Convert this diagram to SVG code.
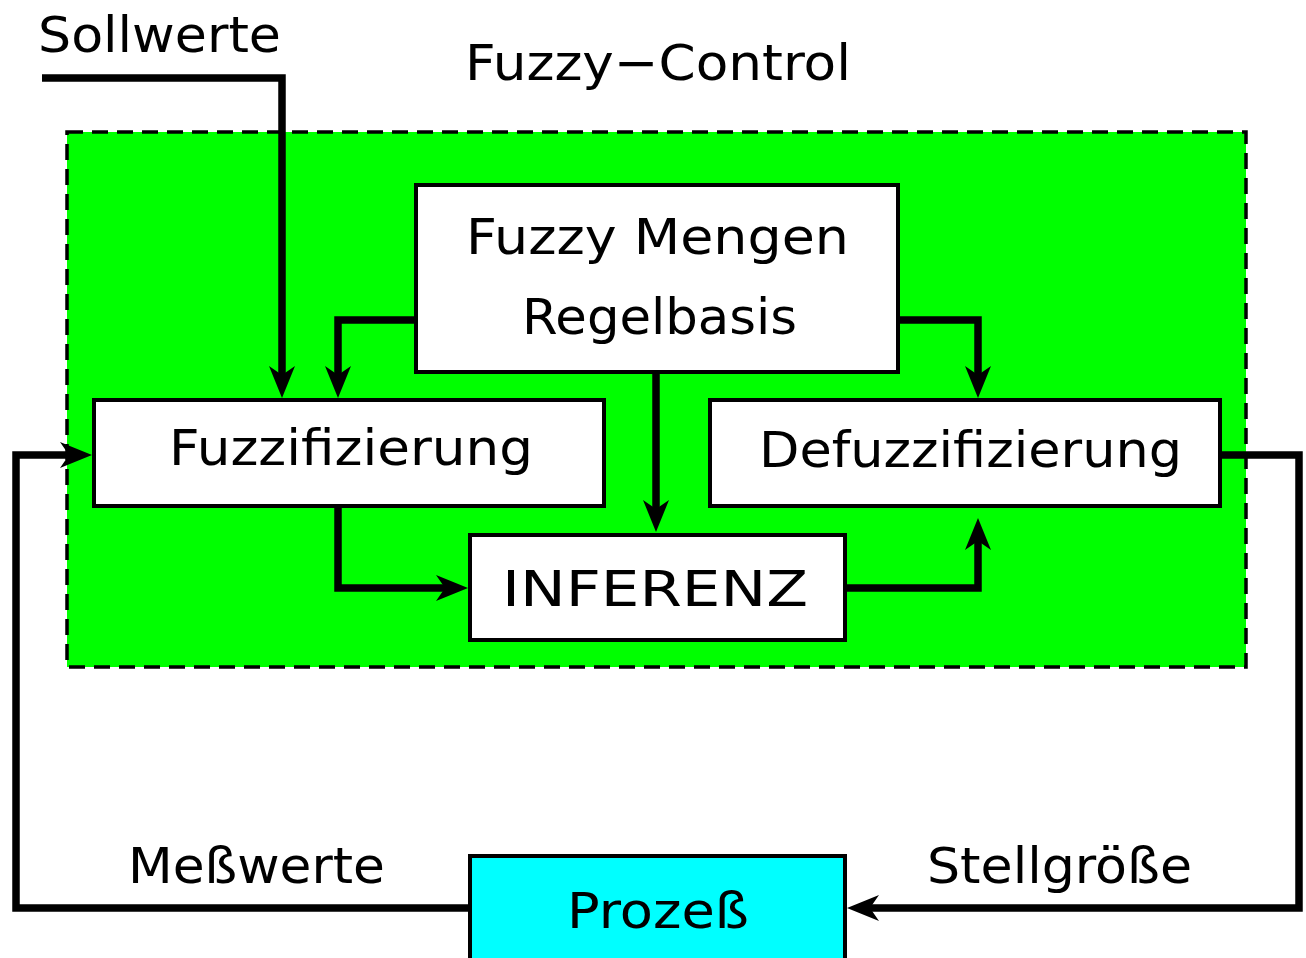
<svg xmlns="http://www.w3.org/2000/svg" width="1306" height="958" viewBox="0 0 1306 958">
<style>
  .t{font-family:"DejaVu Sans","Liberation Sans",sans-serif;font-size:50px;fill:#000}
  .box{fill:#fff;stroke:#000;stroke-width:4}
  .c{fill:none;stroke:#000;stroke-width:7.5;stroke-linejoin:miter;stroke-linecap:butt}
</style>
<defs>
  <marker id="ah" markerUnits="userSpaceOnUse" viewBox="-14 -16 38 32" markerWidth="38" markerHeight="32" refX="0" refY="0" orient="auto">
    <path d="M-12,-13 L20,0 L-12,13 L-3,0 Z" fill="#000"/>
  </marker>
</defs>
<rect width="1306" height="958" fill="#fff"/>
<g id="fuzzy-control">
  <rect x="67" y="132" width="1179" height="535" fill="#00ff00" stroke="#000" stroke-width="3.5" stroke-dasharray="16 9"/>
  <text class="t" x="465" y="80" textLength="386" lengthAdjust="spacingAndGlyphs">Fuzzy−Control</text>
</g>
<g id="sollwerte-label"><text class="t" x="38" y="52" textLength="243" lengthAdjust="spacingAndGlyphs">Sollwerte</text></g>
<g id="messwerte-label"><text class="t" x="128" y="883" textLength="257" lengthAdjust="spacingAndGlyphs">Meßwerte</text></g>
<g id="stellgroesse-label"><text class="t" x="927" y="883" textLength="265" lengthAdjust="spacingAndGlyphs">Stellgröße</text></g>
<g id="connectors">
  <path class="c" d="M42,78 H282 V378" marker-end="url(#ah)"/>
  <path class="c" d="M416,320 H338 V378" marker-end="url(#ah)"/>
  <path class="c" d="M898,320 H978 V378" marker-end="url(#ah)"/>
  <path class="c" d="M656,372 V512" marker-end="url(#ah)"/>
  <path class="c" d="M338,506 V588 H448" marker-end="url(#ah)"/>
  <path class="c" d="M845,588 H978 V538" marker-end="url(#ah)"/>
  <path class="c" d="M1220,455 H1299 V908 H867" marker-end="url(#ah)"/>
  <path class="c" d="M470,908 H16 V455 H72" marker-end="url(#ah)"/>
</g>
<g id="mengen">
  <rect class="box" x="416" y="185" width="482" height="187"/>
  <text class="t" x="466" y="254" textLength="383" lengthAdjust="spacingAndGlyphs">Fuzzy Mengen</text>
  <text class="t" x="522" y="334" textLength="275" lengthAdjust="spacingAndGlyphs">Regelbasis</text>
</g>
<g id="fuzzifizierung">
  <rect class="box" x="94" y="400" width="510" height="106"/>
  <text class="t" x="169" y="465" textLength="364" lengthAdjust="spacingAndGlyphs">Fuzzifizierung</text>
</g>
<g id="defuzzifizierung">
  <rect class="box" x="710" y="400" width="510" height="106"/>
  <text class="t" x="759" y="467" textLength="423" lengthAdjust="spacingAndGlyphs">Defuzzifizierung</text>
</g>
<g id="inferenz">
  <rect class="box" x="470" y="535" width="375" height="105"/>
  <text class="t" x="502" y="606" textLength="306" lengthAdjust="spacingAndGlyphs">INFERENZ</text>
</g>
<g id="prozess">
  <rect x="470" y="856" width="375" height="110" fill="#00ffff" stroke="#000" stroke-width="4"/>
  <text class="t" x="567" y="928" textLength="182" lengthAdjust="spacingAndGlyphs">Prozeß</text>
</g>
</svg>
